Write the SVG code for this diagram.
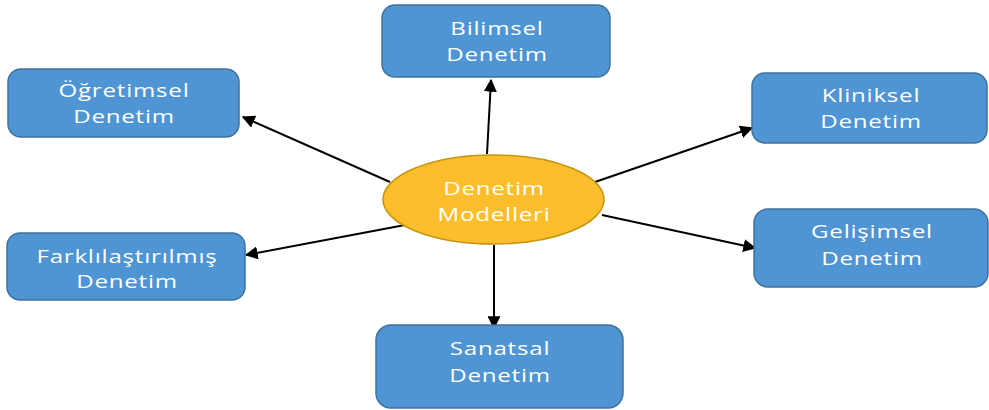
<svg xmlns="http://www.w3.org/2000/svg" width="989" height="410" viewBox="0 0 989 410">
<style>
.box{fill:#4F95D3;stroke:#41719C;stroke-width:1.5}
.ell{fill:#FCBE2C;stroke:#C4950F;stroke-width:1.5}
.t{font-family:"Open Sans","Liberation Sans",sans-serif;font-size:19px;letter-spacing:0.6px;fill:#FFFFFF;text-anchor:middle}
.c{stroke:#000;stroke-width:2;fill:none;marker-end:url(#ah)}
</style>
<defs>
<marker id="ah" viewBox="0 0 10 10" refX="9" refY="5" markerWidth="6.5" markerHeight="6.5" orient="auto" markerUnits="strokeWidth">
<path d="M0,0 L10,5 L0,10 z" fill="#000"/>
</marker>
</defs>
<rect width="989" height="410" fill="#fff"/>
<g id="connectors">
<line class="c" x1="487" y1="154" x2="491" y2="80"/>
<line class="c" x1="390" y1="182" x2="243" y2="117"/>
<line class="c" x1="595" y1="182" x2="752" y2="128"/>
<line class="c" x1="602" y1="215" x2="755" y2="248"/>
<line class="c" x1="405" y1="225" x2="246" y2="255"/>
<line class="c" x1="494" y1="245" x2="494" y2="328"/>
</g>
<g id="center">
<ellipse class="ell" cx="493.5" cy="199.5" rx="110.5" ry="44.5"/>
<text class="t" transform="translate(494,195) scale(1.27,1)">Denetim</text>
<text class="t" transform="translate(494,221) scale(1.27,1)">Modelleri</text>
</g>
<g id="bilimsel">
<rect class="box" x="382" y="5" width="228" height="72" rx="13"/>
<text class="t" transform="translate(497,35) scale(1.27,1)">Bilimsel</text>
<text class="t" transform="translate(497,61) scale(1.27,1)">Denetim</text>
</g>
<g id="ogretimsel">
<rect class="box" x="8" y="69" width="231" height="68" rx="13"/>
<text class="t" transform="translate(124,97) scale(1.27,1)">Öğretimsel</text>
<text class="t" transform="translate(124,123) scale(1.27,1)">Denetim</text>
</g>
<g id="kliniksel">
<rect class="box" x="752" y="73" width="235" height="70" rx="13"/>
<text class="t" transform="translate(871,102) scale(1.27,1)">Kliniksel</text>
<text class="t" transform="translate(871,128) scale(1.27,1)">Denetim</text>
</g>
<g id="farklilastirilmis">
<rect class="box" x="7" y="233" width="238" height="67" rx="13"/>
<text class="t" transform="translate(127,263) scale(1.27,1)">Farklılaştırılmış</text>
<text class="t" transform="translate(127,288) scale(1.27,1)">Denetim</text>
</g>
<g id="gelisimsel">
<rect class="box" x="754" y="209" width="234" height="78" rx="14"/>
<text class="t" transform="translate(872,238) scale(1.27,1)">Gelişimsel</text>
<text class="t" transform="translate(872,265) scale(1.27,1)">Denetim</text>
</g>
<g id="sanatsal">
<rect class="box" x="376" y="325" width="247" height="83" rx="15"/>
<text class="t" transform="translate(500,355) scale(1.27,1)">Sanatsal</text>
<text class="t" transform="translate(500,382) scale(1.27,1)">Denetim</text>
</g>
</svg>
